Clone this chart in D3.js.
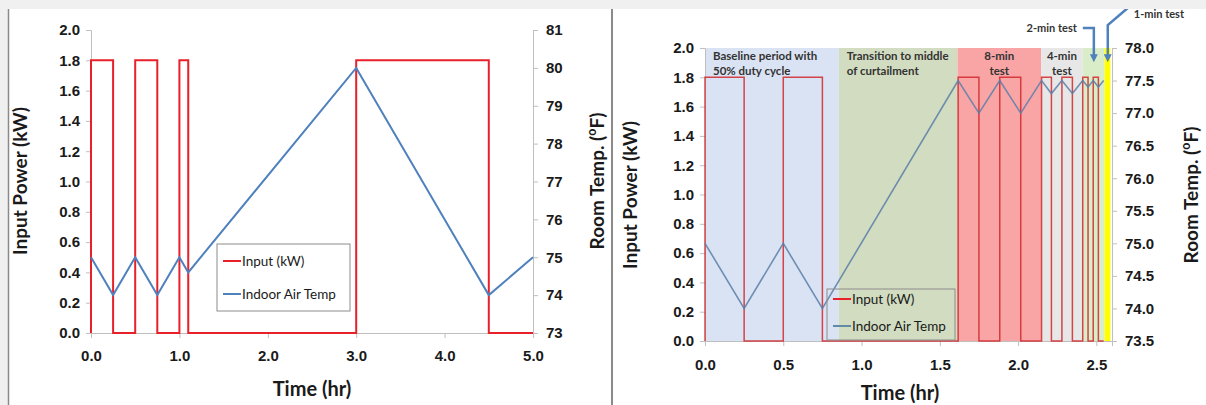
<!DOCTYPE html>
<html>
<head>
<meta charset="utf-8">
<script src="https://cdn.jsdelivr.net/npm/d3@7"></script>
<style>
  body { margin: 0; background: #f0f0f0; }
  svg { display: block; font-family: Lato, "Open Sans", sans-serif; }
  .axis path, .axis line { stroke: #bfbfbf; }
  .axis text { font-size: 15px; font-weight: bold; fill: #1a1a1a; }
</style>
</head>
<body>
<div id="chart"></div>
<script>
// ---- left chart data (Excel style step points) ----
var leftInputT  = [0, 0, 0.25, 0.5, 0.75, 1.0, 1.1, 3.0, 4.5, 5.0];
var leftInputKW = [0, 1.8, 0, 1.8, 0, 1.8, 0, 1.8, 0, 0];
var leftTempT = [0, 0.25, 0.5, 0.75, 1.0, 1.1, 3.0, 4.5, 5.0];
var leftTempF = [75, 74, 75, 74, 75, 74.6, 80, 74, 75];
var leftXTicks = [0, 1, 2, 3, 4, 5];
var leftYTicks = [0, 0.2, 0.4, 0.6, 0.8, 1.0, 1.2, 1.4, 1.6, 1.8, 2.0];
var leftY2Ticks = [73, 74, 75, 76, 77, 78, 79, 80, 81];

// ---- right chart data ----
var rightInputT  = [0, 0, 0.25, 0.5, 0.75, 1.617, 1.75, 1.883, 2.017, 2.15, 2.213, 2.28, 2.347, 2.413, 2.447, 2.48, 2.513, 2.547];
var rightInputKW = [0, 1.8, 0, 1.8, 0, 1.8, 0, 1.8, 0, 1.8, 0, 1.8, 0, 1.8, 0, 1.8, 0, 0];
var rightTempT = [0, 0.25, 0.5, 0.75, 1.617, 1.75, 1.883, 2.017, 2.15, 2.213, 2.28, 2.347, 2.413, 2.447, 2.48, 2.513, 2.547];
var rightTempF = [75.0, 74.0, 75.0, 74.0, 77.5, 77.0, 77.5, 77.0, 77.5, 77.3, 77.5, 77.3, 77.5, 77.4, 77.5, 77.4, 77.5];
var rightXTicks = [0, 0.5, 1.0, 1.5, 2.0, 2.5];
var rightYTicks = [0, 0.2, 0.4, 0.6, 0.8, 1.0, 1.2, 1.4, 1.6, 1.8, 2.0];
var rightY2Ticks = [73.5, 74.0, 74.5, 75.0, 75.5, 76.0, 76.5, 77.0, 77.5, 78.0];

// test period bands
var bandStart = [0, 0.855, 1.613, 2.147, 2.413, 2.553];
var bandEnd   = [0.855, 1.613, 2.147, 2.413, 2.553, 2.59];
var bandColor = ["#dae3f3", "#d2dcc0", "#faa5a5", "#e7e7e7", "#d9edc9", "#ffff00"];
var bandLines = [["Baseline period with", "50% duty cycle"], ["Transition to middle", "of curtailment"], ["8-min", "test"], ["4-min", "test"], [], []];
var bandAlign = ["start", "start", "middle", "middle", "", ""];

var legendNames = ["Input (kW)", "Indoor Air Temp"];

var red = "#e8202a";
var blue = "#4f81bd";

var svg = d3.select("#chart").append("svg")
  .attr("width", 1206)
  .attr("height", 405);

// white panel + separators
svg.append("rect").attr("x", 8).attr("y", 9).attr("width", 1198).attr("height", 396).attr("fill", "#fff");
svg.append("line").attr("x1", 8.5).attr("x2", 8.5).attr("y1", 9).attr("y2", 405).attr("stroke", "#8a8a8a").attr("stroke-width", 1.5);
svg.append("line").attr("x1", 612).attr("x2", 612).attr("y1", 9).attr("y2", 405).attr("stroke", "#8a8a8a").attr("stroke-width", 2);

function pts(t, v) {
  return t.map(function(d, i) { return [d, v[i]]; });
}

function addTitle(g, text, x, y, rot, size, sup) {
  var t = g.append("text")
    .attr("transform", "translate(" + x + "," + y + ")" + (rot ? " rotate(-90)" : ""))
    .attr("text-anchor", "middle")
    .attr("font-size", size)
    .attr("font-weight", "bold")
    .attr("fill", "#1a1a1a");
  if (sup) {
    t.append("tspan").text(text);
    t.append("tspan").attr("font-size", size * 0.65).attr("dy", -8).text("o");
    t.append("tspan").attr("dy", 8).text("F)");
  } else {
    t.text(text);
  }
}

function drawAxes(g, x, y, y2, xt, yt, y2t, xfmt, y2fmt, xpad) {
  var r = x.range(), b = y.range()[0];
  g.append("g").attr("class", "axis")
    .attr("transform", "translate(0," + b + ")")
    .call(d3.axisBottom(x).tickValues(xt).tickFormat(d3.format(xfmt)).tickSizeOuter(0).tickSize(5).tickPadding(xpad));
  g.append("g").attr("class", "axis")
    .attr("transform", "translate(" + r[0] + ",0)")
    .call(d3.axisLeft(y).tickValues(yt).tickFormat(d3.format(".1f")).tickSizeOuter(0).tickSize(5).tickPadding(6));
  g.append("g").attr("class", "axis")
    .attr("transform", "translate(" + r[1] + ",0)")
    .call(d3.axisRight(y2).tickValues(y2t).tickFormat(d3.format(y2fmt)).tickSizeOuter(0).tickSize(5).tickPadding(8));
}

function drawLegend(g, x0, y0, w, h, fill, lineColor2, first, gap) {
  g.append("rect").attr("x", x0).attr("y", y0).attr("width", w).attr("height", h)
    .attr("fill", fill).attr("stroke", "#8c8c8c").attr("stroke-width", 1);
  var cols = [red, lineColor2];
  legendNames.forEach(function(n, i) {
    var yy = y0 + first + i * gap;
    g.append("line").attr("x1", x0 + 6).attr("x2", x0 + 24).attr("y1", yy).attr("y2", yy)
      .attr("stroke", cols[i]).attr("stroke-width", 2);
    g.append("text").attr("x", x0 + 25).attr("y", yy + 4.5).attr("font-size", 13.5)
      .attr("fill", "#1a1a1a").text(n);
  });
}

// ================= left chart =================
var gl = svg.append("g");
var xL = d3.scaleLinear().domain([0, 5]).range([91, 533]);
var yL = d3.scaleLinear().domain([0, 2]).range([333, 30]);
var y2L = d3.scaleLinear().domain([73, 81]).range([333, 30]);

drawAxes(gl, xL, yL, y2L, leftXTicks, leftYTicks, leftY2Ticks, ".1f", "d", 12);

gl.append("path")
  .datum(pts(leftInputT, leftInputKW))
  .attr("fill", "none").attr("stroke", red).attr("stroke-width", 2)
  .attr("d", d3.line().x(d => xL(d[0])).y(d => yL(d[1])).curve(d3.curveStepAfter));

gl.append("path")
  .datum(pts(leftTempT, leftTempF))
  .attr("fill", "none").attr("stroke", blue).attr("stroke-width", 2)
  .attr("d", d3.line().x(d => xL(d[0])).y(d => y2L(d[1])));

drawLegend(gl, 217, 244, 133, 67, "#fff", blue, 17, 33);

addTitle(gl, "Input Power (kW)", 27, 181, true, 19);
addTitle(gl, "Room Temp. (", 604, 181, true, 19, true);
addTitle(gl, "Time (hr)", 312, 396, false, 20);

// ================= right chart =================
var gr = svg.append("g");
var xR = d3.scaleLinear().domain([0, 2.6]).range([705, 1112]);
var yR = d3.scaleLinear().domain([0, 2]).range([341, 48]);
var y2R = d3.scaleLinear().domain([73.5, 78]).range([341, 48]);

gr.selectAll("rect.band")
  .data(bandStart)
  .enter().append("rect")
  .attr("class", "band")
  .attr("x", (d, i) => xR(d))
  .attr("width", (d, i) => xR(bandEnd[i]) - xR(d))
  .attr("y", yR(2))
  .attr("height", yR(0) - yR(2))
  .attr("fill", (d, i) => bandColor[i]);

drawAxes(gr, xR, yR, y2R, rightXTicks, rightYTicks, rightY2Ticks, ".1f", ".1f", 13);

// band labels
bandLines.forEach(function(lines, i) {
  var xx = bandAlign[i] == "start" ? xR(bandStart[i]) + 8 : (xR(bandStart[i]) + xR(bandEnd[i])) / 2;
  lines.forEach(function(s, j) {
    gr.append("text")
      .attr("x", xx).attr("y", yR(2) + 12 + j * 15)
      .attr("text-anchor", bandAlign[i])
      .attr("font-size", 11.5).attr("font-weight", "bold").attr("fill", "#333")
      .text(s);
  });
});

gr.append("path")
  .datum(pts(rightInputT, rightInputKW))
  .attr("fill", "none").attr("stroke", "#d0282c").attr("stroke-width", 1.5).attr("stroke-opacity", 0.85)
  .attr("d", d3.line().x(d => xR(d[0])).y(d => yR(d[1])).curve(d3.curveStepAfter));

gr.append("path")
  .datum(pts(rightTempT, rightTempF))
  .attr("fill", "none").attr("stroke", "#5a7fa8").attr("stroke-width", 1.6).attr("stroke-opacity", 0.85)
  .attr("d", d3.line().x(d => xR(d[0])).y(d => y2R(d[1])));

drawLegend(gr, 827, 289, 128, 51, "none", "#5f8aa8", 10, 27);

// test arrows
var defs = svg.append("defs");
defs.append("marker").attr("id", "arr").attr("viewBox", "0 0 10 10")
  .attr("refX", 5).attr("refY", 5).attr("markerWidth", 3.2).attr("markerHeight", 3.2)
  .attr("orient", "auto")
  .append("path").attr("d", "M0,0 L10,5 L0,10 z").attr("fill", "#4f81bd");

var arrowT = [2.484, 2.573];
var tip = yR(1.93);
gr.append("text").attr("x", xR(arrowT[0]) - 17).attr("y", 32).attr("text-anchor", "end")
  .attr("font-size", 11).attr("font-weight", "bold").attr("fill", "#333").text("2-min test");
gr.append("path")
  .attr("d", "M" + (xR(arrowT[0]) - 11) + ",28 H" + xR(arrowT[0]) + " V" + tip)
  .attr("fill", "none").attr("stroke", "#4f81bd").attr("stroke-width", 2.5).attr("marker-end", "url(#arr)");
gr.append("text").attr("x", xR(arrowT[1]) + 26).attr("y", 18).attr("text-anchor", "start")
  .attr("font-size", 11).attr("font-weight", "bold").attr("fill", "#333").text("1-min test");
gr.append("path")
  .attr("d", "M" + (xR(arrowT[1]) + 20) + ",8 L" + xR(arrowT[1]) + ",25 V" + tip)
  .attr("fill", "none").attr("stroke", "#4f81bd").attr("stroke-width", 2.5).attr("marker-end", "url(#arr)");

addTitle(gr, "Input Power (kW)", 637, 195, true, 19);
addTitle(gr, "Room Temp. (", 1198, 195, true, 19, true);
addTitle(gr, "Time (hr)", 900, 400, false, 20);

// grey strip along top
svg.append("rect").attr("x", 0).attr("y", 0).attr("width", 1206).attr("height", 9).attr("fill", "#f0f0f0");
</script>
</body>
</html>
